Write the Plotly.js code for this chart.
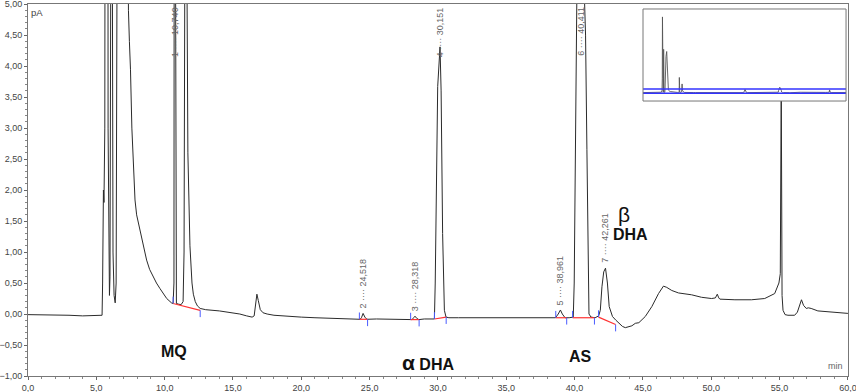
<!DOCTYPE html>
<html><head><meta charset="utf-8">
<script src="https://cdn.plot.ly/plotly-3.0.1.min.js"></script>
<style>html,body{margin:0;padding:0;background:#fff}#chart{width:856px;height:392px}</style>
</head><body><div id="chart"></div>
<script>
// Chromatogram (retention time in min, signal in pA)
const time = [0.0,1.0,2.0,3.0,4.0,5.0,5.3,5.42,5.46,5.49,5.52,5.56,5.62,5.7,5.75,5.8,5.86,5.92,5.96,6.0,6.05,6.1,6.15,6.22,6.3,6.38,6.45,6.52,6.6,6.8,7.0,7.15,7.3,7.35,7.42,7.5,7.6,7.7,7.83,7.95,8.2,8.45,8.68,8.9,9.17,9.4,9.66,9.9,10.15,10.5,10.62,10.68,10.72,10.74,10.77,10.81,10.86,11.0,11.2,11.35,11.42,11.48,11.55,11.62,11.7,11.76,11.85,12.0,12.1,12.24,12.4,12.6,13.0,14.0,15.0,15.5,16.0,16.4,16.55,16.65,16.75,16.85,17.0,17.2,17.5,18.0,19.0,20.0,21.0,22.0,23.0,24.0,24.3,24.4,24.52,24.65,24.8,25.5,26.5,27.5,28.1,28.22,28.32,28.45,28.6,29.0,29.5,29.74,29.8,29.86,29.98,30.15,30.23,30.34,30.47,30.59,30.8,31.5,32.5,33.5,34.5,35.5,36.5,37.5,38.3,38.6,38.8,38.96,39.1,39.3,39.6,39.9,39.97,40.05,40.2,40.41,40.6,40.8,40.9,40.98,41.05,41.2,41.5,41.76,41.88,42.0,42.13,42.26,42.4,42.53,42.77,43.02,43.26,43.5,43.71,44.0,44.19,44.44,44.7,45.17,45.65,46.14,46.5,46.74,47.11,47.6,48.08,48.56,49.29,50.02,50.3,50.44,50.55,50.63,51.73,52.94,53.91,54.64,54.95,55.05,55.12,55.18,55.25,55.4,55.61,56.1,56.3,56.46,56.6,56.75,56.95,57.1,57.31,57.8,58.5,59.0,60.0];
const signal = [-0.01,-0.01,-0.02,-0.02,-0.03,-0.03,-0.03,-0.02,0.5,1.95,2.0,1.8,3.0,20,105,30,3.0,0.5,0.3,0.6,5,60,8,1.0,0.3,0.18,0.5,6,25,50,57,40,8,4.9,4.4,3.94,3.0,2.4,1.84,1.6,1.33,1.08,0.87,0.72,0.6,0.5,0.41,0.32,0.25,0.18,0.17,0.5,10,21,8,0.4,0.17,0.16,0.15,0.2,1.0,6,12,6,2.6,1.84,1.1,0.5,0.32,0.2,0.13,0.09,0.07,0.05,0.02,0.0,-0.03,-0.05,-0.03,0.15,0.32,0.22,0.07,0.02,0.0,-0.02,-0.04,-0.05,-0.06,-0.07,-0.075,-0.08,-0.085,-0.06,0.01,-0.05,-0.085,-0.08,-0.085,-0.085,-0.09,-0.06,-0.035,-0.07,-0.09,-0.08,-0.08,-0.08,0.5,1.84,3.67,4.31,3.6,1.3,0.06,-0.05,-0.06,-0.06,-0.06,-0.055,-0.05,-0.05,-0.05,-0.05,-0.05,-0.06,0.0,0.065,0.0,-0.06,-0.06,-0.05,0.5,2.65,6,7.4,6,4.5,2.65,0.8,0.0,-0.05,-0.06,-0.03,0.06,0.44,0.68,0.74,0.5,0.12,-0.04,-0.1,-0.15,-0.2,-0.22,-0.2,-0.19,-0.15,-0.14,-0.04,0.12,0.33,0.45,0.43,0.38,0.34,0.33,0.31,0.27,0.25,0.26,0.32,0.26,0.24,0.23,0.23,0.25,0.33,0.5,0.65,3.75,0.3,0.06,-0.01,-0.02,-0.02,0.03,0.12,0.23,0.14,0.09,0.1,0.09,0.05,0.04,0.03,0.01];

// Integration baselines (start/end time and signal)
const baseStartT = [10.62, 24.25, 28.0, 29.74, 38.62, 39.85, 41.75];
const baseStartV = [0.17, -0.085, -0.09, -0.08, -0.06, -0.06, -0.05];
const baseEndT   = [12.6, 24.85, 28.62, 30.6, 39.42, 41.45, 43.0];
const baseEndV   = [0.06, -0.085, -0.09, -0.05, -0.06, -0.06, -0.17];

// Peak labels
const peakNum = ['1','2','3','4','5','6','7'];
const peakRT  = [10.740, 24.518, 28.318, 30.151, 38.961, 40.411, 42.261];
const peakTop = [5, 0.01, -0.035, 5, 0.065, 5, 0.74];
const peakOffScale = [true, false, false, true, false, true, false];

// Compound labels
const compNames = ['MQ', '<span style="font-size:21px">α</span> DHA', 'AS', 'β', 'DHA'];
const compT = [10.68, 29.3, 40.46, 43.6, 44.12];
const compV = [-0.6, -0.78, -0.69, 1.6, 1.29];

const redX = [], redY = [], blueX = [], blueY = [];
for (let i = 0; i < baseStartT.length; i++) {
  redX.push(baseStartT[i], baseEndT[i], null);
  redY.push(baseStartV[i], baseEndV[i], null);
  blueX.push(baseStartT[i], baseStartT[i], null, baseEndT[i], baseEndT[i], null);
  blueY.push(baseStartV[i], baseStartV[i] + 0.11, null, baseEndV[i], baseEndV[i] - 0.11, null);
}

const traces = [
  {x: time, y: signal, type: 'scatter', mode: 'lines', line: {color: '#2b2b2b', width: 1}, hoverinfo: 'skip'},
  {x: redX, y: redY, type: 'scatter', mode: 'lines', line: {color: '#ff3030', width: 1.2}, hoverinfo: 'skip'},
  {x: blueX, y: blueY, type: 'scatter', mode: 'lines', line: {color: '#4a5cff', width: 1}, hoverinfo: 'skip'},
  {x: time, y: signal, xaxis: 'x2', yaxis: 'y2', type: 'scatter', mode: 'lines', line: {color: '#555', width: 0.9}, hoverinfo: 'skip'}
];

const FONT = 'Arial, "Liberation Sans", sans-serif';
const annotations = [];
for (let i = 0; i < peakNum.length; i++) {
  const a = {
    x: peakRT[i], y: peakTop[i], xref: 'x', yref: 'y', showarrow: false,
    text: peakNum[i] + ' ···· ' + peakRT[i].toFixed(3).replace('.', ','),
    textangle: -90, font: {family: FONT, size: 9, color: '#666'},
    xanchor: 'center'
  };
  if (peakOffScale[i]) { a.yanchor = 'top'; a.yshift = -1; }
  else { a.yanchor = 'bottom'; a.yshift = 3; }
  annotations.push(a);
}
for (let i = 0; i < compNames.length; i++) {
  annotations.push({x: compT[i], y: compV[i], xref: 'x', yref: 'y', showarrow: false,
    text: i === 3 ? compNames[i] : '<b>' + compNames[i] + '</b>',
    font: {family: FONT, size: i === 3 ? 21 : 16, color: '#111'}, xanchor: 'center', yanchor: 'middle'});
}
annotations.push({x: 0.011, y: 0.976, xref: 'paper', yref: 'paper', text: 'pA', showarrow: false,
  font: {family: FONT, size: 9.5, color: '#444'}, xanchor: 'center', yanchor: 'middle'});
annotations.push({x: 59.1, y: -0.84, xref: 'x', yref: 'y', text: 'min', showarrow: false,
  font: {family: FONT, size: 9, color: '#666'}, xanchor: 'center', yanchor: 'middle'});

const layout = {
  width: 856, height: 392,
  margin: {l: 28, r: 8, t: 4, b: 16},
  paper_bgcolor: '#fff', plot_bgcolor: '#fff',
  separators: ',.',
  showlegend: false,
  xaxis: {range: [0, 60.005], tick0: 0, dtick: 5, tickformat: '.1f', ticks: 'outside', ticklen: 3, tickcolor: '#666',
    minor: {dtick: 1, ticklen: 2, ticks: 'outside', tickcolor: '#888'}, ticklabeloverflow: 'allow',
    showline: true, linecolor: '#777', linewidth: 1, mirror: true, showgrid: false, zeroline: false,
    tickfont: {family: FONT, size: 9, color: '#444'}, fixedrange: true},
  yaxis: {range: [-1, 5.002], tick0: 0, dtick: 0.5, tickformat: '.2f', ticks: 'outside', ticklen: 3, tickcolor: '#666',
    minor: {dtick: 0.1, ticklen: 2, ticks: 'outside', tickcolor: '#888'}, ticklabeloverflow: 'allow',
    showline: true, linecolor: '#777', linewidth: 1, mirror: true, showgrid: false, zeroline: false,
    tickfont: {family: FONT, size: 9, color: '#444'}, fixedrange: true},
  xaxis2: {domain: [0.75, 0.9976], range: [0, 60], anchor: 'y2', visible: false, fixedrange: true},
  yaxis2: {domain: [0.7392, 0.9866], range: [-11.7, 116], anchor: 'x2', visible: false, fixedrange: true},
  shapes: [
    {type: 'line', xref: 'x2 domain', yref: 'y2', x0: 0, x1: 1, y0: 5, y1: 5, line: {color: '#3333ff', width: 1.5}},
    {type: 'line', xref: 'x2 domain', yref: 'y2', x0: 0, x1: 1, y0: -1, y1: -1, line: {color: '#3333ff', width: 1.5}},
    {type: 'rect', xref: 'x2 domain', yref: 'y2 domain', x0: 0, x1: 1, y0: 0, y1: 1, line: {color: '#777', width: 1}}
  ],
  annotations: annotations
};

Plotly.newPlot('chart', traces, layout, {displayModeBar: false, staticPlot: true});
</script></body></html>
